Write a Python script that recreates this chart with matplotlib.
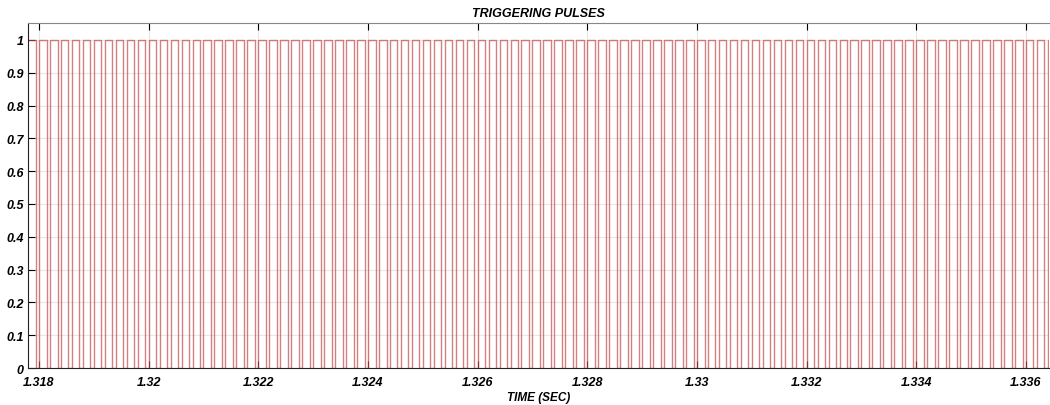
import matplotlib.pyplot as plt
import numpy as np

plt.rcParams['font.family'] = ['Liberation Sans', 'DejaVu Sans']

# PWM triggering signal, constant duty
t_start = 1.3178
t_end = 1.33642
first_rise = 1.3180
period = 0.0002        # 5 kHz switching
duty = 0.69
pulse_high = 1.0
pulse_low = 0.0

x_ticks = [1.318, 1.32, 1.322, 1.324, 1.326, 1.328, 1.33, 1.332, 1.334, 1.336]
x_tick_labels = ['1.318', '1.32', '1.322', '1.324', '1.326', '1.328', '1.33', '1.332', '1.334', '1.336']
y_ticks = [0, 0.1, 0.2, 0.3, 0.4, 0.5, 0.6, 0.7, 0.8, 0.9, 1]
y_tick_labels = ['0', '0.1', '0.2', '0.3', '0.4', '0.5', '0.6', '0.7', '0.8', '0.9', '1']

# edge times of the pulse train
k0 = int(np.floor((t_start - first_rise) / period))
k1 = int(np.ceil((t_end - first_rise) / period))
rises = first_rise + period * np.arange(k0, k1 + 1)
falls = rises + duty * period
edges = np.sort(np.concatenate([rises, falls]))
edges = edges[(edges > t_start) & (edges < t_end)]

t = [t_start]
v = []
# level just after t_start
phase = ((t_start - first_rise) % period) / period
state = pulse_high if phase < duty else pulse_low
v.append(state)
for e in edges:
    t += [e, e]
    v += [state, pulse_high if state == pulse_low else pulse_low]
    state = v[-1]
t.append(t_end)
v.append(state)

fig = plt.figure(figsize=(10.5, 4.06), dpi=100)
ax = fig.add_axes([0.0267, 0.0911, 0.9723, 0.85])

ax.plot(t, v, color='#bf4a4a', linewidth=1.0, alpha=0.7)

ax.set_xlim(t_start, t_end)
ax.set_ylim(0, 1.052)
ax.set_xticks(x_ticks)
ax.set_xticklabels(x_tick_labels)
ax.set_yticks(y_ticks)
ax.set_yticklabels(y_tick_labels)

ax.grid(True, color='#ebe6e6', linewidth=0.8)
ax.set_axisbelow(True)

ax.tick_params(axis='both', direction='in', length=5, width=0.8, labelsize=9)
ax.tick_params(axis='x', top=True, pad=6)
ax.tick_params(axis='y', pad=3)
for lbl in ax.get_xticklabels() + ax.get_yticklabels():
    lbl.set_fontweight('bold')
    lbl.set_fontstyle('italic')

ax.spines['left'].set_color('#222222')
ax.spines['bottom'].set_color('#222222')
ax.spines['top'].set_color('#888888')
ax.spines['right'].set_visible(False)

ax.set_title('TRIGGERING PULSES', fontsize=9, fontweight='bold', fontstyle='italic', pad=5)
ax.set_xlabel('TIME (SEC)', fontsize=8.5, fontweight='bold', fontstyle='italic', labelpad=2)

fig.savefig('out.png', dpi=100)
